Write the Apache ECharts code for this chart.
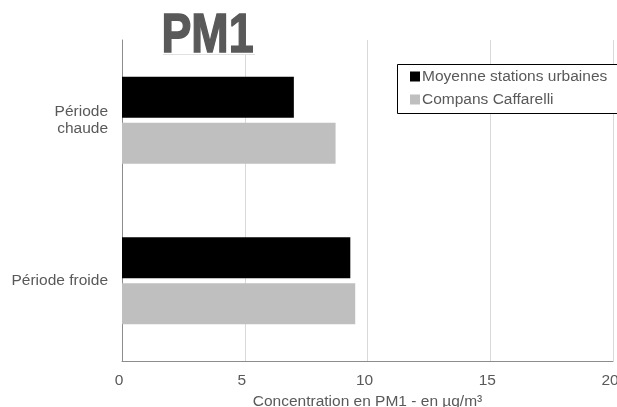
<!DOCTYPE html>
<html>
<head>
<meta charset="utf-8">
<script src="https://cdn.jsdelivr.net/npm/echarts@6/dist/echarts.min.js"></script>
<style>
  html, body { margin: 0; padding: 0; background: #fff; }
  #chart { width: 617px; height: 407px; }
</style>
</head>
<body>
<div id="chart"></div>
<script>
// Périodes (catégories) et concentrations moyennes de PM1 (µg/m³)
const periodes = ['Période\nchaude', 'Période froide'];
const moyenneUrbaine = [7.0, 9.3];
const compansCaffarelli = [8.7, 9.5];
const xTicks = [0, 5, 10, 15, 20];

const textGray = '#595959';
const font = 'Liberation Sans, Arial, sans-serif';
const fs = 15.5;

const chart = echarts.init(document.getElementById('chart'));

chart.setOption({
  animation: false,
  backgroundColor: '#fff',
  grid: { left: 122, right: 4, top: 40, bottom: 46, containLabel: false, outerBoundsMode: 'none' },
  legend: {
    orient: 'vertical',
    left: 397,
    top: 64,
    padding: [4, 4, 5, 13],
    itemGap: 6,
    itemWidth: 10,
    itemHeight: 10,
    icon: 'rect',
    borderWidth: 0,
    textStyle: { color: textGray, fontSize: fs, fontFamily: font, padding: [0, 0, 0, -3], lineHeight: 17 },
    data: ['Moyenne stations urbaines', 'Compans Caffarelli']
  },
  xAxis: {
    type: 'value',
    min: xTicks[0],
    max: xTicks[xTicks.length - 1],
    interval: xTicks[1] - xTicks[0],
    name: 'Concentration en PM1 - en µg/m³',
    nameLocation: 'middle',
    nameGap: 29,
    nameTextStyle: { color: textGray, fontSize: fs, fontFamily: font },
    axisLine: { show: true, lineStyle: { color: '#8c8c8c', width: 1 } },
    axisTick: { show: false },
    axisLabel: { color: textGray, fontSize: fs, fontFamily: font, margin: 12, padding: [0, 6, 0, 0] },
    splitLine: { show: true, lineStyle: { color: '#d9d9d9', width: 1 } }
  },
  yAxis: {
    type: 'category',
    data: periodes,
    inverse: true,
    axisLine: { show: true, lineStyle: { color: '#8c8c8c', width: 1 } },
    axisTick: { show: false },
    axisLabel: { color: textGray, fontSize: fs, fontFamily: font, margin: 14, lineHeight: 17, align: 'right' },
    splitLine: { show: false }
  },
  series: [
    {
      name: 'Moyenne stations urbaines',
      type: 'bar',
      data: moyenneUrbaine,
      barWidth: 41,
      barGap: '12%',
      itemStyle: { color: '#000000' }
    },
    {
      name: 'Compans Caffarelli',
      type: 'bar',
      data: compansCaffarelli,
      barWidth: 41,
      barGap: '12%',
      itemStyle: { color: '#bfbfbf' }
    }
  ],
  graphic: [
    // legend frame, running past the right edge of the canvas
    {
      type: 'rect',
      z: 1,
      shape: { x: 397.5, y: 64.5, width: 240, height: 49 },
      style: { fill: '#fff', stroke: '#000', lineWidth: 1 }
    },
    {
      type: 'rect',
      z: 10,
      shape: { x: 163, y: 30, width: 92, height: 24 },
      style: { fill: '#fff' }
    },
    {
      type: 'line',
      z: 10,
      shape: { x1: 163, y1: 54.5, x2: 255, y2: 54.5 },
      style: { stroke: '#e0e0e0', lineWidth: 1 }
    },
    {
      type: 'text',
      z: 11,
      x: 207.5,
      y: 9,
      scaleX: 0.8,
      style: {
        text: 'PM1',
        fill: textGray,
        stroke: textGray,
        lineWidth: 1.5,
        font: 'bold 56px ' + font,
        textAlign: 'center',
        textVerticalAlign: 'top'
      }
    }
  ]
});
</script>
</body>
</html>
